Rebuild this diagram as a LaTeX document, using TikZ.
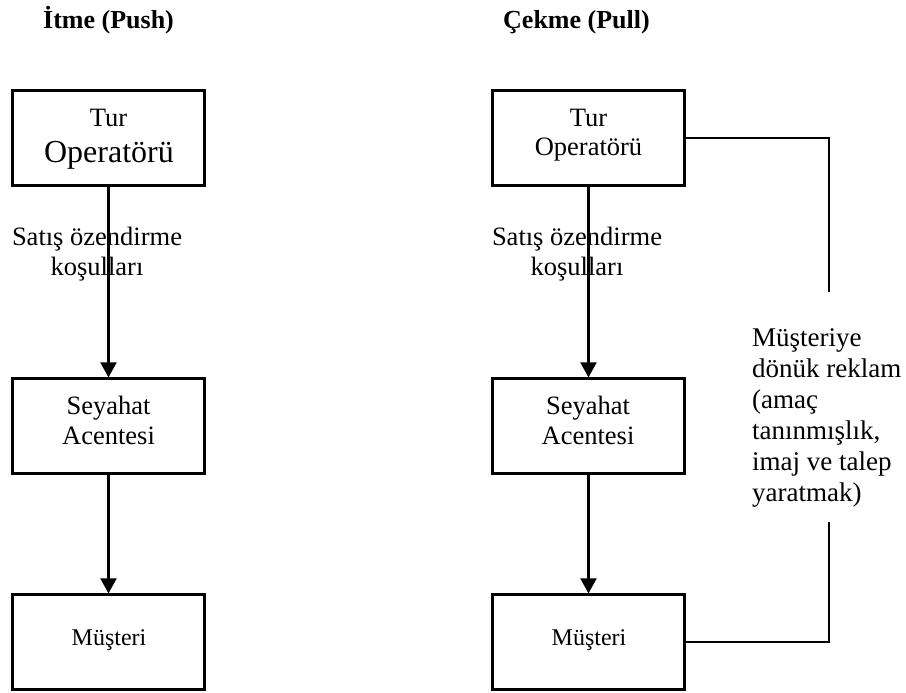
\documentclass[tikz,border=0pt]{standalone}
\usepackage{fontspec}
\setmainfont{Liberation Serif}
\usetikzlibrary{arrows.meta}
\begin{document}
\begin{tikzpicture}[x=1pt,y=-1pt,
  box/.style={draw, line width=2.2pt, minimum width=192pt, minimum height=95pt, inner sep=0pt},
  txt/.style={anchor=base, inner sep=0pt, align=center, font=\fontsize{26.5}{30}\selectfont},
  heading/.style={anchor=base west, inner sep=0pt, font=\fontsize{26}{30}\selectfont\bfseries},
  flow/.style={line width=2.2pt, -{Triangle[width=16pt,length=15pt]}},
  link/.style={line width=2.2pt}]
\useasboundingbox (0,0) rectangle (906,693);

% column headings
\node[heading] (hpush) at (43,29) {İtme (Push)};
\node[heading] (hpull) at (503,29) {Çekme (Pull)};

% push column (multi-line texts are anchored on their last line)
\node[box] (lt) at (108.5,138) {};
\node[box] (lm) at (108.5,426) {};
\node[box] (lb) at (108.5,642) {};
\node[txt] (lt1) at (108.5,126) {Tur};
\node[txt, font=\fontsize{32}{36}\selectfont] (lt2) at (109,162) {Operatörü};
\node[txt] (lm1) at (108.5,444) {Seyahat\\Acentesi};
\node[txt, font=\fontsize{24}{28}\selectfont] (lb1) at (109,645) {Müşteri};
\node[txt, font=\fontsize{26.5}{29.5}\selectfont] (lcond) at (97,275) {Satış özendirme\\koşulları};
\draw[flow] (lt) -- (lm);
\draw[flow] (lm) -- (lb);

% pull column
\node[box] (rt) at (588.5,138) {};
\node[box] (rm) at (588.5,426) {};
\node[box] (rb) at (588.5,642) {};
\node[txt, font=\fontsize{26.5}{29}\selectfont] (rt1) at (588.5,155) {Tur\\Operatörü};
\node[txt] (rm1) at (588,444) {Seyahat\\Acentesi};
\node[txt, font=\fontsize{24}{28}\selectfont] (rb1) at (589,645) {Müşteri};
\node[txt, font=\fontsize{26.5}{29.5}\selectfont] (rcond) at (577,275) {Satış özendirme\\koşulları};
\draw[flow] (rt) -- (rm);
\draw[flow] (rm) -- (rb);

% advertising aimed directly at the customer
\coordinate (adtop) at (829,292);
\coordinate (adbot) at (829,522);
\draw[link] (rt.east) -| (adtop);
\draw[link] (rb.east) -| (adbot);
\node[anchor=base west, inner sep=0pt, align=left, font=\fontsize{27}{31}\selectfont] (adtext) at (752,501)
  {Müşteriye\\dönük reklam\\(amaç\\tanınmışlık,\\imaj ve talep\\yaratmak)};
\end{tikzpicture}
\end{document}
